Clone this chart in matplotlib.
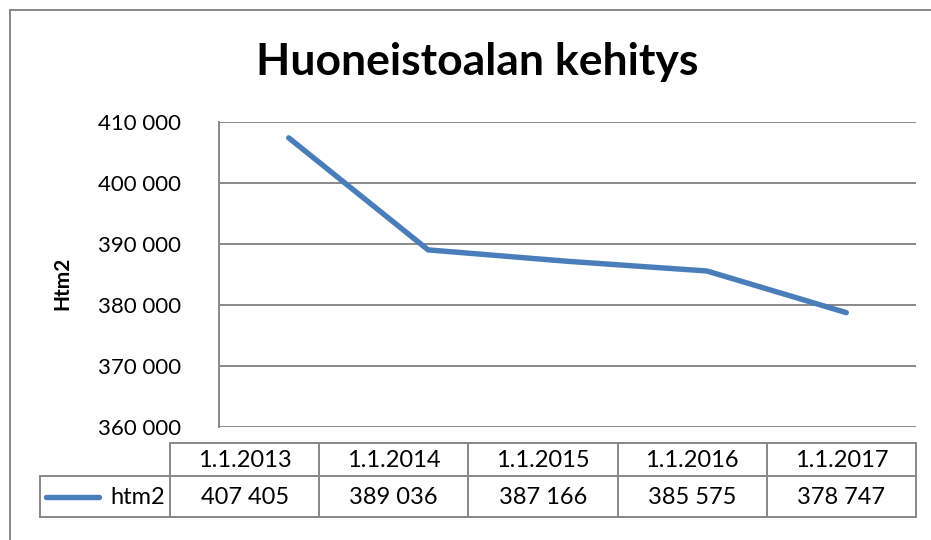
import matplotlib
matplotlib.use("Agg")
import matplotlib.pyplot as plt
from matplotlib.lines import Line2D

plt.rcParams['font.family'] = ['Lato', 'DejaVu Sans']

title = "Huoneistoalan kehitys"
ylabel = "Htm2"
series_name = "htm2"
categories = ["1.1.2013", "1.1.2014", "1.1.2015", "1.1.2016", "1.1.2017"]
values = [407405, 389036, 387166, 385575, 378747]
yticks = [360000, 370000, 380000, 390000, 400000, 410000]

W, H = 931, 540
fig = plt.figure(figsize=(W / 100, H / 100), dpi=100)
fig.patch.set_facecolor("white")

def fx(px):
    return px / W

def fy(py):
    return 1 - py / H

grid_c = "#888888"
line_c = "#4A7EBB"

# Plot area
pl, pr, pt, pb = 219, 916, 122, 427
ax = fig.add_axes([fx(pl), fy(pb), fx(pr - pl), (pb - pt) / H])
x = list(range(len(categories)))
ax.plot(x, values, color=line_c, lw=3.9, solid_capstyle="round",
        solid_joinstyle="miter", zorder=3)
ax.set_xlim(-0.5, len(categories) - 0.5)
ax.set_ylim(yticks[0], yticks[-1])
ax.set_yticks(yticks)
ax.set_yticklabels([f"{v:,}".replace(",", " ") for v in yticks], fontsize=16)
ax.tick_params(axis="y", length=0, pad=27)
ax.set_xticks([])
ax.grid(axis="y", color=grid_c, lw=1.4)
for s in ["top", "right", "bottom"]:
    ax.spines[s].set_visible(False)
ax.spines["left"].set_color(grid_c)
ax.spines["left"].set_linewidth(1.4)
ax.set_axisbelow(True)

# Title and y label
fig.text(fx(477), fy(62), title, ha="center", va="center",
         fontsize=32, fontweight="bold")
fig.text(fx(62), fy(283), ylabel, ha="center", va="center",
         fontsize=15, fontweight="bold", rotation=90)

# Outer border (left and top visible)
fig.add_artist(Line2D([fx(10), fx(10)], [fy(10), fy(540)], color=grid_c, lw=1.4))
fig.add_artist(Line2D([fx(10), fx(931)], [fy(10), fy(10)], color=grid_c, lw=1.4))

# Data table
col_x = [170, 319.2, 468.4, 617.6, 766.8, 916]
legend_left = 40
t_top, t_mid, t_bot = 443, 476, 517

def hline(x0, x1, y):
    fig.add_artist(Line2D([fx(x0), fx(x1)], [fy(y), fy(y)], color=grid_c, lw=1.4))

def vline(xx, y0, y1):
    fig.add_artist(Line2D([fx(xx), fx(xx)], [fy(y0), fy(y1)], color=grid_c, lw=1.4))

hline(col_x[0], col_x[-1], t_top)
hline(legend_left, col_x[-1], t_mid)
hline(legend_left, col_x[-1], t_bot)
vline(legend_left, t_mid, t_bot)
for cx in col_x:
    vline(cx, t_top, t_bot)

for i, cat in enumerate(categories):
    cxm = (col_x[i] + col_x[i + 1]) / 2
    fig.text(fx(cxm), fy((t_top + t_mid) / 2 + 1), cat, ha="center", va="center", fontsize=17)
    fig.text(fx(cxm), fy((t_mid + t_bot) / 2 + 1), f"{values[i]:,}".replace(",", " "),
             ha="center", va="center", fontsize=17)

ly = (t_mid + t_bot) / 2
fig.add_artist(Line2D([fx(46), fx(99)], [fy(ly), fy(ly)], color=line_c, lw=3.9,
                      solid_capstyle="round"))
fig.text(fx(165), fy(ly + 1), series_name, ha="right", va="center", fontsize=17)

fig.savefig("out.png", dpi=100, facecolor="white")
